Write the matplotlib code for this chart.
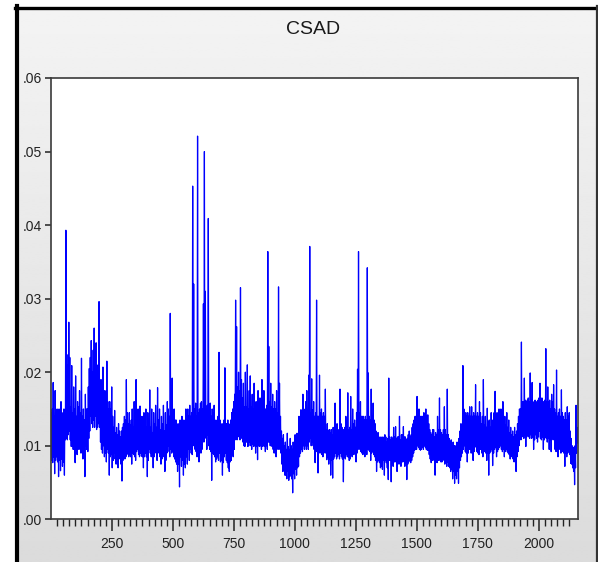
import numpy as np
import matplotlib
matplotlib.use("Agg")
import matplotlib.pyplot as plt
from matplotlib.ticker import FixedLocator, NullFormatter
from matplotlib import font_manager
from matplotlib.lines import Line2D

# CSAD series, every 2nd observation, in units of 1e-4
csad_e4 = [
    145, 80, 150, 77, 186, 85, 140, 62, 175, 80, 145, 85, 150, 78, 138, 58, 150, 80, 140, 66, 160, 82, 145, 72, 135, 78, 150, 60, 140, 108, 393, 110, 224, 108, 210, 115, 268, 120, 220, 108,
    153, 99, 209, 100, 145, 95, 180, 105, 150, 77, 195, 100, 140, 88, 160, 95, 153, 100, 175, 95, 145, 90, 219, 100, 140, 82, 150, 95, 135, 58, 170, 100, 150, 95, 150, 92, 180, 110, 205, 120,
    220, 140, 243, 130, 200, 125, 230, 135, 260, 125, 200, 140, 240, 122, 190, 125, 210, 130, 296, 125, 180, 105, 190, 95, 170, 90, 207, 100, 165, 85, 175, 90, 150, 78, 215, 95, 160, 90, 150, 60,
    160, 85, 150, 88, 180, 70, 140, 80, 125, 90, 148, 82, 118, 75, 125, 81, 115, 70, 130, 85, 120, 82, 112, 75, 120, 52, 125, 80, 130, 85, 140, 82, 135, 85, 190, 88, 145, 90, 130, 85,
    145, 88, 128, 85, 135, 75, 150, 90, 125, 88, 160, 85, 138, 80, 190, 92, 130, 95, 150, 88, 122, 85, 154, 90, 135, 86, 140, 85, 120, 70, 145, 85, 130, 90, 150, 85, 125, 58, 145, 80,
    135, 95, 176, 90, 125, 85, 150, 88, 118, 70, 145, 85, 130, 92, 155, 90, 125, 80, 179, 92, 135, 90, 150, 85, 122, 75, 140, 82, 130, 88, 155, 85, 120, 65, 145, 80, 128, 90, 160, 92,
    150, 100, 140, 85, 280, 95, 145, 90, 192, 92, 140, 85, 150, 82, 135, 78, 135, 75, 125, 65, 130, 75, 120, 44, 135, 85, 125, 72, 140, 80, 125, 60, 135, 75, 130, 70, 150, 85, 135, 75,
    150, 95, 140, 80, 155, 95, 140, 90, 145, 88, 453, 100, 320, 105, 150, 95, 158, 92, 140, 85, 521, 95, 145, 78, 150, 92, 158, 90, 160, 95, 150, 110, 293, 105, 500, 110, 310, 115, 150, 95,
    155, 115, 409, 100, 150, 95, 158, 92, 140, 53, 150, 90, 145, 88, 155, 85, 135, 78, 130, 82, 135, 85, 140, 80, 227, 90, 135, 78, 130, 80, 125, 60, 130, 77, 135, 85, 206, 90, 130, 80,
    130, 77, 135, 70, 130, 65, 128, 78, 135, 80, 145, 88, 150, 85, 160, 95, 170, 108, 298, 110, 262, 108, 180, 115, 200, 112, 175, 108, 315, 120, 190, 110, 165, 105, 185, 100, 153, 99, 200, 105,
    153, 105, 210, 99, 150, 100, 175, 105, 195, 100, 153, 95, 170, 102, 150, 99, 185, 100, 153, 90, 160, 99, 150, 81, 175, 100, 153, 99, 165, 100, 150, 95, 190, 99, 155, 100, 175, 99, 150, 92,
    150, 100, 155, 95, 364, 105, 235, 105, 160, 100, 185, 100, 153, 99, 170, 95, 150, 90, 160, 95, 150, 85, 175, 99, 145, 95, 316, 100, 185, 95, 140, 90, 120, 75, 110, 65, 115, 70, 100, 60,
    105, 60, 95, 55, 117, 65, 99, 53, 95, 58, 110, 60, 100, 55, 95, 36, 105, 62, 99, 55, 115, 68, 105, 60, 117, 70, 110, 72, 140, 85, 130, 90, 149, 95, 140, 92, 170, 100, 150, 95,
    149, 100, 160, 95, 175, 100, 149, 95, 196, 105, 371, 110, 145, 100, 191, 105, 149, 100, 160, 95, 140, 77, 145, 92, 298, 100, 140, 63, 140, 90, 196, 95, 145, 90, 150, 88, 140, 85, 145, 90,
    140, 95, 177, 90, 122, 81, 130, 85, 120, 75, 122, 82, 118, 60, 122, 80, 115, 56, 125, 82, 122, 85, 158, 90, 122, 82, 130, 85, 122, 88, 120, 82, 177, 90, 130, 85, 125, 82, 115, 51,
    122, 85, 125, 82, 140, 88, 122, 85, 172, 85, 122, 80, 125, 82, 167, 88, 122, 85, 150, 88, 130, 90, 135, 88, 125, 78, 145, 90, 204, 95, 364, 100, 145, 95, 160, 92, 140, 90, 140, 88,
    140, 100, 135, 85, 140, 92, 135, 88, 342, 95, 199, 94, 140, 92, 135, 80, 177, 90, 140, 92, 158, 88, 135, 85, 130, 80, 120, 65, 112, 78, 118, 80, 112, 77, 110, 70, 112, 72, 110, 68,
    112, 80, 105, 60, 115, 80, 112, 77, 105, 70, 110, 54, 192, 80, 112, 80, 108, 51, 112, 77, 110, 72, 125, 78, 112, 78, 126, 80, 110, 65, 112, 77, 112, 75, 140, 80, 108, 72, 115, 78,
    115, 78, 126, 80, 112, 72, 112, 77, 108, 54, 110, 75, 115, 78, 120, 80, 112, 77, 115, 80, 125, 85, 130, 90, 135, 94, 140, 95, 140, 95, 167, 100, 140, 98, 150, 95, 140, 94, 140, 95,
    140, 98, 140, 95, 145, 100, 140, 98, 150, 95, 140, 94, 142, 94, 130, 88, 122, 82, 118, 77, 115, 80, 122, 82, 122, 80, 112, 60, 118, 78, 115, 77, 140, 80, 122, 80, 165, 82, 122, 78,
    118, 78, 115, 80, 122, 82, 153, 75, 122, 78, 115, 72, 177, 78, 115, 72, 110, 70, 105, 65, 108, 68, 100, 55, 105, 65, 100, 49, 100, 60, 95, 55, 105, 65, 100, 49, 110, 70, 120, 80,
    130, 85, 125, 90, 209, 95, 150, 100, 140, 92, 145, 90, 140, 78, 145, 90, 140, 95, 153, 95, 140, 90, 153, 95, 140, 80, 145, 92, 140, 100, 183, 98, 140, 92, 145, 90, 140, 88, 160, 95,
    145, 95, 130, 90, 140, 85, 190, 92, 128, 92, 140, 90, 125, 80, 151, 90, 132, 60, 135, 90, 125, 92, 145, 95, 135, 73, 128, 90, 145, 95, 174, 98, 130, 85, 145, 92, 128, 95, 150, 98,
    145, 100, 150, 95, 128, 92, 160, 95, 130, 85, 140, 92, 128, 95, 145, 92, 125, 90, 135, 88, 118, 82, 125, 85, 115, 88, 120, 82, 112, 78, 125, 82, 115, 65, 120, 85, 130, 92, 140, 100,
    150, 115, 150, 108, 241, 112, 160, 120, 160, 110, 192, 115, 162, 99, 160, 112, 162, 115, 165, 112, 160, 110, 199, 115, 162, 110, 186, 112, 150, 95, 160, 108, 162, 115, 160, 110, 155, 105, 162, 112,
    165, 120, 185, 110, 160, 108, 165, 112, 150, 95, 160, 108, 162, 112, 232, 110, 160, 105, 180, 110, 160, 95, 162, 108, 150, 92, 170, 110, 160, 108, 183, 110, 150, 95, 145, 92, 203, 100, 140, 85,
    145, 100, 150, 95, 140, 90, 176, 95, 145, 92, 140, 90, 135, 72, 145, 90, 135, 85, 153, 90, 140, 92, 145, 88, 120, 76, 110, 75, 100, 70, 98, 65, 95, 47, 100, 70, 155, 90, 125, 104,
]
obs_step = 2

y_ticks = [0.00, 0.01, 0.02, 0.03, 0.04, 0.05, 0.06]
y_tick_labels = [".00", ".01", ".02", ".03", ".04", ".05", ".06"]
x_major = [250, 500, 750, 1000, 1250, 1500, 1750, 2000]
x_tick_labels = ["250", "500", "750", "1000", "1250", "1500", "1750", "2000"]
x_minor = list(range(25, 2150, 25))

title = "CSAD"


def pick_font(names):
    for name in names:
        try:
            font_manager.findfont(name, fallback_to_default=False)
            return name
        except Exception:
            continue
    return "DejaVu Sans"


font = pick_font(["Liberation Sans", "Arial"])
plt.rcParams["font.family"] = [font, "DejaVu Sans"]

W, H = 598, 562
fig = plt.figure(figsize=(W / 100, H / 100), dpi=100)

# Window background: grey vertical gradient with a dark border
bg = fig.add_axes([0, 0, 1, 1], zorder=0)
grad = np.linspace(0.955, 0.86, 256)[:, None]
bg.imshow(grad, cmap="gray", vmin=0, vmax=1, aspect="auto",
          extent=[0, W, H, 0], origin="upper", interpolation="bilinear")
bg.set_xlim(0, W)
bg.set_ylim(H, 0)
bg.axis("off")
bg.fill_between([0, 15], 0, H, color="white", zorder=2)
bg.fill_between([0, W], 0, 6, color="white", zorder=2)
bg.add_line(Line2D([17, 17], [6, H], color="black", lw=3.0, zorder=3))
bg.add_line(Line2D([15, W], [7.5, 7.5], color="black", lw=2.4, zorder=3))
bg.add_line(Line2D([597, 597], [6, H], color="#333333", lw=1.6, zorder=3))

# Plot area
left, right, top, bottom = 51, 578, 78, 519.3
ax = fig.add_axes([left / W, 1 - bottom / H, (right - left) / W, (bottom - top) / H],
                  zorder=1)
ax.set_facecolor("white")

x = 1 + obs_step * np.arange(len(csad_e4))
y = np.array(csad_e4) / 10000.0
ax.plot(x, y, color="#0000ff", lw=0.9)

ax.set_xlim(0, 2161)
ax.set_ylim(0, 0.06)

ax.yaxis.set_major_locator(FixedLocator(y_ticks))
ax.set_yticklabels(y_tick_labels)
ax.xaxis.set_major_locator(FixedLocator(x_major))
ax.set_xticklabels(x_tick_labels)
ax.xaxis.set_minor_locator(FixedLocator(x_minor))
ax.xaxis.set_minor_formatter(NullFormatter())

for s in ax.spines.values():
    s.set_color("#3a3a3a")
    s.set_linewidth(1.2)

ax.tick_params(axis="y", which="major", direction="out", length=4.3, width=1.1,
               pad=2.0, labelsize=10, colors="#222222")
ax.tick_params(axis="x", which="major", direction="out", length=8.5, width=1.1,
               pad=4, labelsize=10, colors="#222222")
ax.tick_params(axis="x", which="minor", direction="out", length=5, width=1.0,
               colors="#222222")

fig.text((left + right) / 2 / W - 0.003, 1 - 30 / H, title, ha="center", va="center",
         fontsize=14, color="#1a1a1a")

fig.savefig("out.png", dpi=100)
